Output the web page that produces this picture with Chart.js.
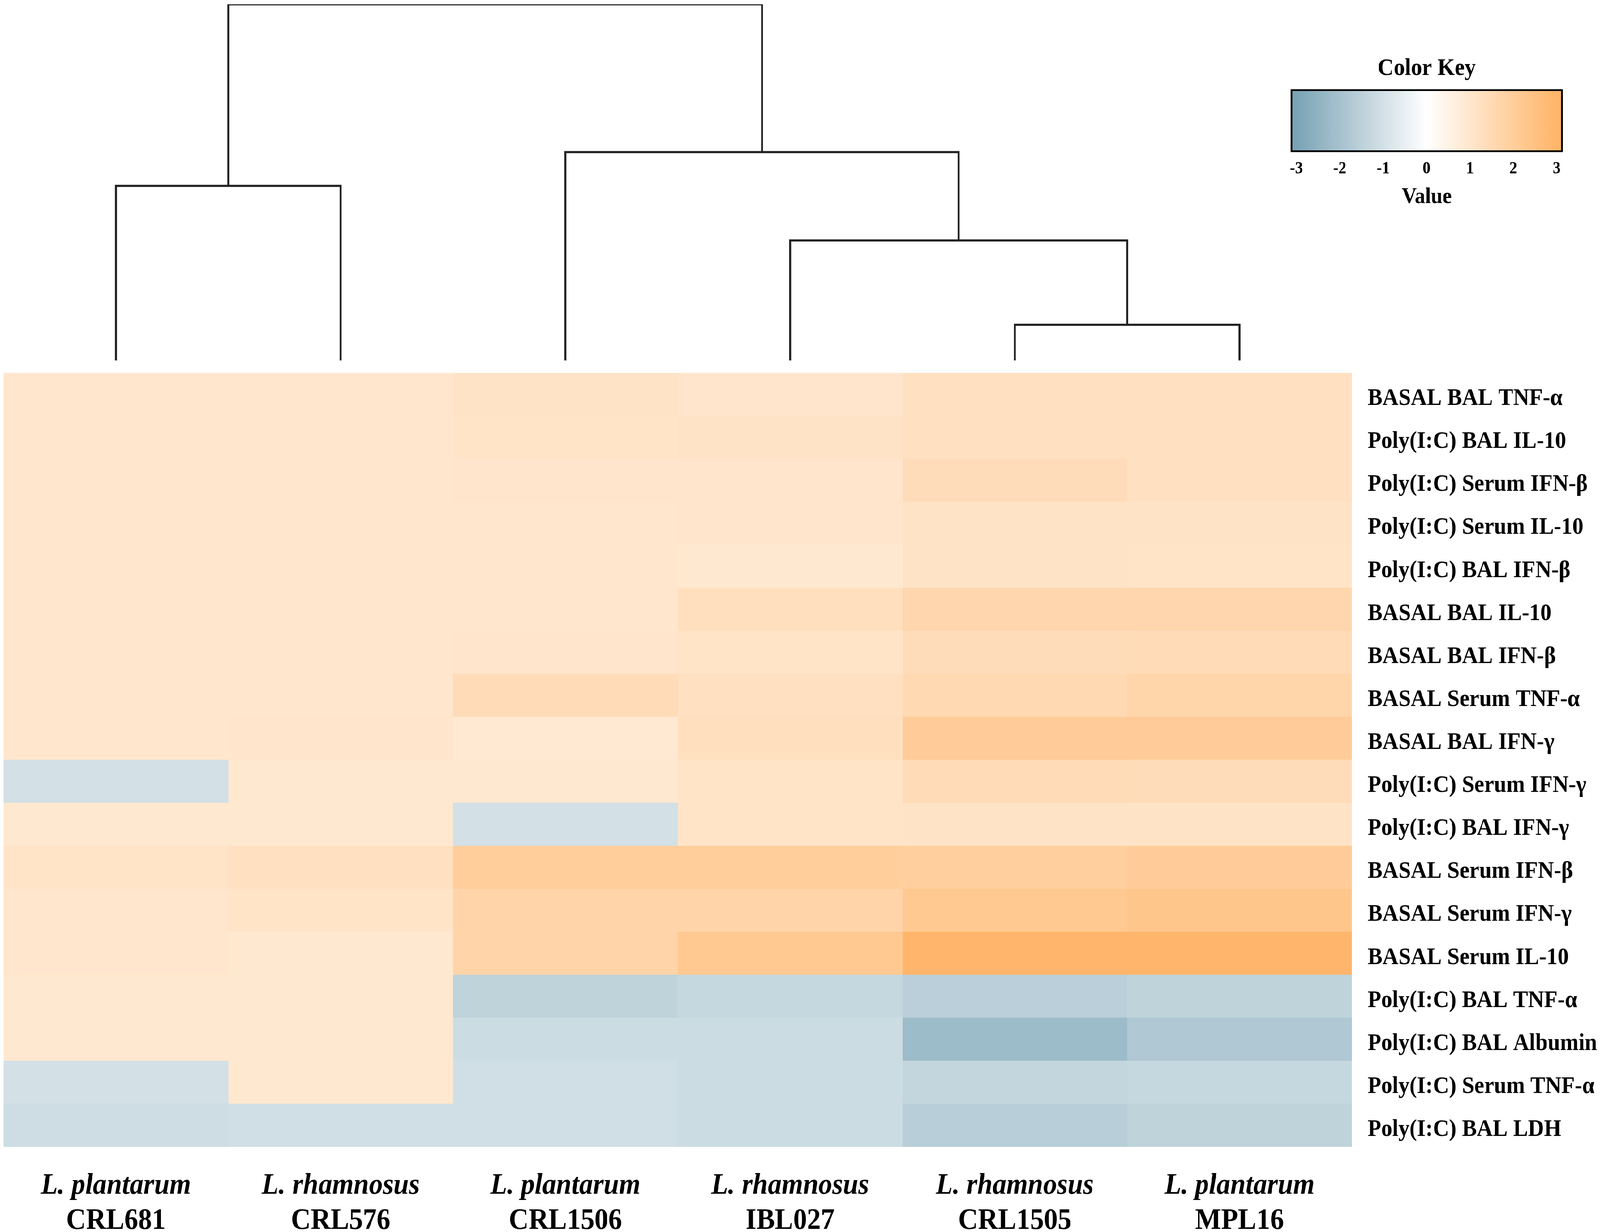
<!DOCTYPE html>
<html>
<head>
<meta charset="utf-8">
<title>Heatmap</title>
<script src="https://cdn.jsdelivr.net/npm/chart.js@4"></script>
<style>
  html, body { margin: 0; padding: 0; background: #fff; overflow: hidden; }
  #page { position: relative; width: 4469px; height: 3155px; transform-origin: 0 0; }
  canvas { position: absolute; }
</style>
</head>
<body>
<div id="page">
  <canvas id="heat" style="left:0;top:0"></canvas>
  <canvas id="tree" style="left:0;top:0"></canvas>
  <canvas id="key" style="left:3560px;top:120px"></canvas>
</div>
<script>
const rowLabels = [
  "BASAL BAL TNF-α", "Poly(I:C) BAL IL-10", "Poly(I:C) Serum IFN-β", "Poly(I:C) Serum IL-10",
  "Poly(I:C) BAL IFN-β", "BASAL BAL IL-10", "BASAL BAL IFN-β", "BASAL Serum TNF-α",
  "BASAL BAL IFN-γ", "Poly(I:C) Serum IFN-γ", "Poly(I:C) BAL IFN-γ", "BASAL Serum IFN-β",
  "BASAL Serum IFN-γ", "BASAL Serum IL-10", "Poly(I:C) BAL TNF-α", "Poly(I:C) BAL Albumin",
  "Poly(I:C) Serum TNF-α", "Poly(I:C) BAL LDH"
];
const species = ["L. plantarum", "L. rhamnosus", "L. plantarum", "L. rhamnosus", "L. rhamnosus", "L. plantarum"];
const strains = ["CRL681", "CRL576", "CRL1506", "IBL027", "CRL1505", "MPL16"];

// one array per strain, same order as rowLabels
const crl681  = [1.0, 1.0, 1.0, 1.0, 1.0, 1.0, 1.0, 1.0, 1.0, -1.0, 0.95, 1.1, 1.0, 1.0, 0.95, 0.95, -1.0, -1.1];
const crl576  = [1.0, 1.0, 1.0, 1.0, 1.0, 1.0, 1.0, 1.0, 1.05, 0.95, 0.95, 1.25, 1.1, 0.95, 0.95, 0.95, 0.95, -1.05];
const crl1506 = [1.15, 1.1, 1.05, 1.0, 1.0, 1.0, 1.05, 1.45, 0.9, 0.95, -1.0, 2.0, 1.75, 1.75, -1.45, -1.15, -1.05, -1.05];
const ibl027  = [1.05, 1.15, 1.05, 1.05, 0.95, 1.3, 1.1, 1.25, 1.3, 1.1, 1.1, 2.0, 1.75, 2.2, -1.3, -1.15, -1.15, -1.15];
const crl1505 = [1.25, 1.25, 1.4, 1.15, 1.15, 1.65, 1.4, 1.55, 2.05, 1.45, 1.15, 1.95, 2.2, 2.95, -1.55, -2.2, -1.35, -1.6];
const mpl16   = [1.25, 1.25, 1.25, 1.15, 1.1, 1.65, 1.45, 1.7, 2.05, 1.4, 1.15, 2.05, 2.3, 2.95, -1.45, -1.8, -1.3, -1.45];
const columns = [crl681, crl576, crl1506, ibl027, crl1505, mpl16];

// dendrogram merges: x is in column units, heights run 0 (leaves) to 100 (root)
const mergeLeftX   = [0.5, 4.5, 3.5, 2.5, 1.0];
const mergeRightX  = [1.5, 5.5, 5.0, 4.25, 3.375];
const mergeLeftH   = [0, 0, 0, 0, 49];
const mergeRightH  = [0, 0, 10, 33.7, 58.5];
const mergeTopH    = [49, 10, 33.7, 58.5, 100];

const keyTicks = [-3, -2, -1, 0, 1, 2, 3];

const SERIF = "'Liberation Serif', 'Times New Roman', serif";
const NEG_END = [122, 163, 181];
const POS_END = [255, 181, 105];

// the browser window can come out narrower than asked, so fit the layout to it
document.getElementById('page').style.transform =
  `scale(${window.innerWidth / 4469}, ${window.innerHeight / 3155})`;

function colorFor(v) {
  const end = v < 0 ? NEG_END : POS_END;
  const t = Math.min(Math.abs(v) / 3, 1);
  const c = end.map(e => Math.round(255 + (e - 255) * t));
  return `rgb(${c[0]}, ${c[1]}, ${c[2]})`;
}

Chart.defaults.devicePixelRatio = 1;
Chart.defaults.animation = false;
Chart.defaults.responsive = false;
Chart.defaults.color = '#000';
Chart.defaults.plugins.legend.display = false;
Chart.defaults.plugins.tooltip.enabled = false;

function setSize(id, w, h) {
  const c = document.getElementById(id);
  c.width = w;
  c.height = h;
  c.style.width = w + 'px';
  c.style.height = h + 'px';
  return c;
}

// column tick axes share the same 0-6 range, only label text and font differ
function columnAxis(labels, font, padding, height) {
  return {
    type: 'linear',
    position: 'bottom',
    min: 0,
    max: 6,
    grid: { display: false },
    border: { display: false },
    afterBuildTicks: scale => { scale.ticks = labels.map((_, i) => ({ value: i + 0.5 })); },
    afterFit: scale => { scale.height = height; },
    ticks: {
      autoSkip: false,
      maxRotation: 0,
      padding: padding,
      font: font,
      callback: (value) => labels[Math.floor(value)]
    }
  };
}

new Chart(setSize('heat', 4469, 3155), {
  type: 'bar',
  data: {
    labels: rowLabels,
    datasets: columns.map((col, c) => ({
      label: strains[c],
      data: col.map(() => [c, c + 1]),
      backgroundColor: col.map(colorFor),
      borderWidth: 0,
      barPercentage: 1,
      categoryPercentage: 1,
      grouped: false
    }))
  },
  options: {
    indexAxis: 'y',
    layout: { padding: { left: 10, top: 955, right: 0, bottom: 0 } },
    scales: {
      x: columnAxis(species, { family: SERIF, size: 77, weight: 'bold', style: 'italic' }, 46, 136),
      x2: Object.assign(columnAxis(strains, { family: SERIF, size: 77, weight: 'bold' }, 0, 82), { display: true }),
      y: {
        position: 'right',
        grid: { display: false },
        border: { display: false },
        afterFit: scale => { scale.width = 693; },
        ticks: {
          autoSkip: false,
          crossAlign: 'near',
          padding: 36,
          labelOffset: 11,
          font: { family: SERIF, size: 62, weight: 'bold' }
        }
      }
    }
  }
});

new Chart(setSize('tree', 3776, 945), {
  type: 'line',
  data: {
    datasets: mergeTopH.map((top, i) => ({
      data: [
        { x: mergeLeftX[i], y: mergeLeftH[i] },
        { x: mergeLeftX[i], y: top },
        { x: mergeRightX[i], y: top },
        { x: mergeRightX[i], y: mergeRightH[i] }
      ],
      borderColor: '#222',
      borderWidth: 5.5,
      pointRadius: 0,
      tension: 0,
      borderJoinStyle: 'miter'
    }))
  },
  options: {
    layout: { padding: { left: 10, top: 11, right: 0, bottom: 22 } },
    scales: {
      x: { type: 'linear', min: 0, max: 6, display: false },
      y: { type: 'linear', min: 0, max: 100, display: false }
    }
  }
});

new Chart(setSize('key', 850, 420), {
  type: 'bar',
  data: {
    labels: ['key'],
    datasets: [{
      data: [[-3.132, 3.14]],
      borderColor: '#000',
      borderWidth: 5,
      borderSkipped: false,
      barPercentage: 1,
      categoryPercentage: 1,
      backgroundColor: ctx => {
        const area = ctx.chart.chartArea;
        if (!area) return '#fff';
        const x = ctx.chart.scales.x;
        const g = ctx.chart.ctx.createLinearGradient(x.left, 0, x.right, 0);
        const stop = v => (v - x.min) / (x.max - x.min);
        g.addColorStop(stop(-3), colorFor(-3));
        g.addColorStop(stop(0), colorFor(0));
        g.addColorStop(stop(3), colorFor(3));
        return g;
      }
    }]
  },
  options: {
    indexAxis: 'y',
    layout: { padding: { left: 45, right: 45, top: 0, bottom: 0 } },
    plugins: {
      title: {
        display: true,
        text: 'Color Key',
        color: '#000',
        font: { family: SERIF, size: 62, weight: 'bold' },
        padding: { top: 19, bottom: 15 }
      }
    },
    scales: {
      x: {
        type: 'linear',
        min: -3.132,
        max: 3.14,
        grid: { display: false, drawTicks: true, tickLength: 9, tickWidth: 3, tickColor: '#444' },
        border: { display: false },
        afterBuildTicks: scale => { scale.ticks = keyTicks.map(v => ({ value: v })); },
        ticks: {
          autoSkip: false,
          maxRotation: 0,
          padding: 8,
          font: { family: SERIF, size: 44, weight: 'bold' },
          callback: value => String(value)
        },
        title: {
          display: true,
          text: 'Value',
          font: { family: SERIF, size: 58, weight: 'bold' },
          padding: { top: 3, bottom: 0 }
        }
      },
      y: { display: false }
    }
  }
});
</script>
</body>
</html>
